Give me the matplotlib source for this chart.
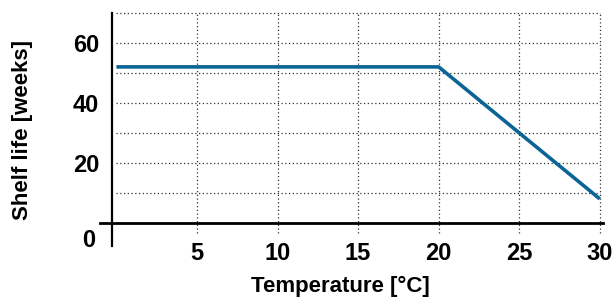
import matplotlib.pyplot as plt
from matplotlib.transforms import ScaledTranslation

plt.rcParams['font.family'] = ['Liberation Sans', 'DejaVu Sans']
plt.rcParams['font.weight'] = 'bold'

# data
temperature = [0, 20, 30]
shelf_life = [52, 52, 8]
x_ticks = [5, 10, 15, 20, 25, 30]
y_ticks = [0, 20, 40, 60]
y_grid = [10, 20, 30, 40, 50, 60, 70]

fig = plt.figure(figsize=(6.12, 3.0), dpi=100)
ax = fig.add_axes([0.1626, 0.181, 0.828, 0.781])

ax.set_xlim(-1.05, 30.4)
ax.set_ylim(-7.6, 70.5)

# dotted grid
ax.vlines(x_ticks, -3.5, 70, colors='#333333', linestyles=(0, (1, 2)), linewidth=0.9)
ax.hlines(y_grid, 0, 30, colors='#333333', linestyles=(0, (1, 2)), linewidth=0.9)

ax.plot(temperature, shelf_life, color='#0b6496', linewidth=2.6, solid_capstyle='butt', zorder=3)

# crossing axes
for s in ['top', 'right']:
    ax.spines[s].set_visible(False)
ax.spines['left'].set_position(('data', -0.3))
ax.spines['left'].set_bounds(-7.6, 70)
ax.spines['bottom'].set_position(('data', 0))
ax.spines['bottom'].set_bounds(-1.05, 30.2)
ax.spines['left'].set_linewidth(1.6)
ax.spines['bottom'].set_linewidth(2.0)

ax.set_xticks(x_ticks)
ax.set_yticks(y_ticks)
ax.tick_params(axis='both', length=0, labelsize=17)
ax.tick_params(axis='x', pad=14)
ax.tick_params(axis='y', pad=9)

# zero label sits below the x axis
lbl0 = ax.get_yticklabels()[0]
lbl0.set_transform(lbl0.get_transform() + ScaledTranslation(-0.04, -0.15, fig.dpi_scale_trans))

ax.set_xlabel('Temperature [°C]', fontsize=16, fontweight='bold', va='center')
ax.xaxis.set_label_coords(0.4745, -0.176)
ax.set_ylabel('Shelf life [weeks]', fontsize=16, fontweight='bold', va='center')
ax.yaxis.set_label_coords(-0.151, 0.494)

fig.savefig('out.png', dpi=100)
